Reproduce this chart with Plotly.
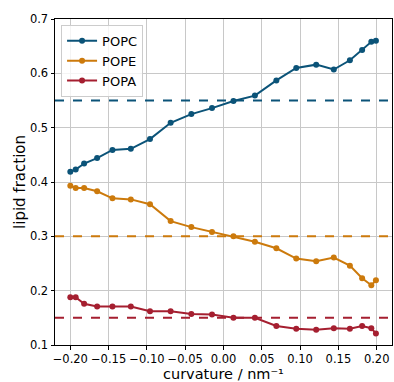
import plotly.graph_objects as go

curvature = [-0.200, -0.193, -0.182, -0.165, -0.145, -0.121, -0.096, -0.069, -0.042, -0.015,
             0.013, 0.041, 0.069, 0.095, 0.121, 0.144, 0.165, 0.181, 0.193, 0.199]
popc = [0.419, 0.423, 0.434, 0.444, 0.459, 0.461, 0.479, 0.509, 0.525, 0.536,
        0.549, 0.559, 0.587, 0.610, 0.616, 0.607, 0.624, 0.643, 0.658, 0.660]
pope = [0.393, 0.389, 0.389, 0.383, 0.370, 0.368, 0.359, 0.328, 0.317, 0.308,
        0.300, 0.290, 0.278, 0.259, 0.254, 0.261, 0.246, 0.223, 0.210, 0.219]
popa = [0.188, 0.188, 0.176, 0.171, 0.171, 0.171, 0.162, 0.162, 0.157, 0.156,
        0.150, 0.150, 0.135, 0.130, 0.128, 0.131, 0.130, 0.135, 0.131, 0.121]
names = ["POPC", "POPE", "POPA"]
reference = [0.55, 0.30, 0.15]
colors = ["#0b5378", "#cc7a0c", "#a51f30"]
series = [popc, pope, popa]
x_title = "curvature / nm⁻¹"
y_title = "lipid fraction"

fig = go.Figure()
for name, vals, col in zip(names, series, colors):
    fig.add_trace(go.Scatter(x=curvature, y=vals, mode="lines+markers", name=name,
                             line=dict(color=col, width=2), marker=dict(color=col, size=6)))
for col, ref in zip(colors, reference):
    fig.add_hline(y=ref, line=dict(color=col, width=2, dash="dash"))

axis_common = dict(showline=True, linecolor="black", linewidth=1, mirror=True,
                   showgrid=True, gridcolor="#c8c8c8", gridwidth=1, zeroline=False,
                   ticks="outside", ticklen=3.5, tickcolor="black", automargin=False,
                   tickangle=0,
                   tickfont=dict(family="DejaVu Sans", size=11.5, color="black"))
fig.update_xaxes(range=[-0.22, 0.22], tickvals=[-0.2, -0.15, -0.1, -0.05, 0, 0.05, 0.1, 0.15, 0.2],
                 tickformat=".2f", **axis_common)
fig.update_yaxes(range=[0.1, 0.7], tickvals=[0.1, 0.2, 0.3, 0.4, 0.5, 0.6, 0.7], tickformat=".1f",
                 **axis_common)
title_font = dict(family="DejaVu Sans", size=14.5, color="black")
fig.add_annotation(text=x_title, xref="paper", yref="paper", x=0.5, y=-0.09,
                   xanchor="center", yanchor="middle", showarrow=False, font=title_font)
fig.add_annotation(text=y_title, xref="paper", yref="paper", x=-0.104, y=0.5,
                   xanchor="center", yanchor="middle", showarrow=False, textangle=-90,
                   font=dict(family="DejaVu Sans", size=15, color="black"))
fig.update_layout(width=394, height=382, margin=dict(l=55, r=2, t=19, b=37),
                  plot_bgcolor="white", paper_bgcolor="white",
                  legend=dict(x=0.018, y=0.982, xanchor="left", yanchor="top",
                              bgcolor="rgba(255,255,255,0.8)", bordercolor="#cccccc", borderwidth=1,
                              font=dict(family="DejaVu Sans", size=13, color="black"),
                              itemwidth=30, tracegroupgap=0),
                  showlegend=True)
fig.write_html("out.html")
